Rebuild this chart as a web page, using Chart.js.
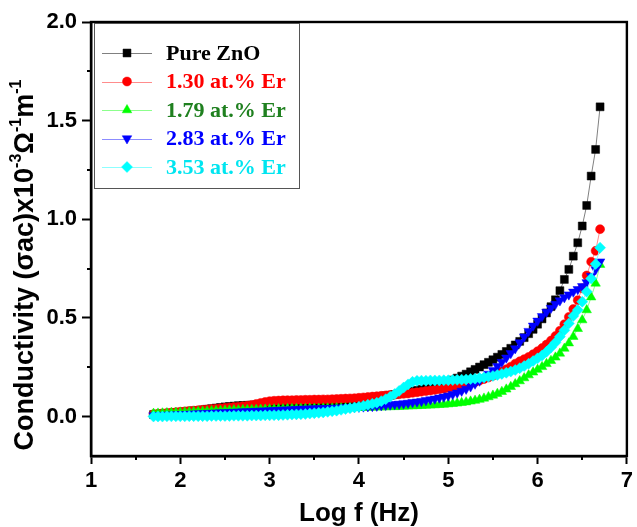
<!DOCTYPE html>
<html>
<head>
<meta charset="utf-8">
<script src="https://cdn.jsdelivr.net/npm/chart.js@4.4.0/dist/chart.umd.min.js"></script>
<style>
html,body{margin:0;padding:0;background:#fff;}
#wrap{width:637px;height:527px;}
</style>
</head>
<body>
<div id="wrap"><canvas id="c" width="637" height="527"></canvas></div>
<script>
// log f (Hz)
const logF = [
1.70,1.75,1.80,1.85,1.90,1.95,2.00,2.05,2.10,2.15,
2.20,2.25,2.30,2.35,2.40,2.45,2.50,2.55,2.60,2.65,
2.70,2.75,2.80,2.85,2.90,2.95,3.00,3.05,3.10,3.15,
3.20,3.25,3.30,3.35,3.40,3.45,3.50,3.55,3.60,3.65,
3.70,3.75,3.80,3.85,3.90,3.95,4.00,4.05,4.10,4.15,
4.20,4.25,4.30,4.35,4.40,4.45,4.50,4.55,4.60,4.65,
4.70,4.75,4.80,4.85,4.90,4.95,5.00,5.05,5.10,5.15,
5.20,5.25,5.30,5.35,5.40,5.45,5.50,5.55,5.60,5.65,
5.70,5.75,5.80,5.85,5.90,5.95,6.00,6.05,6.10,6.15,
6.20,6.25,6.30,6.35,6.40,6.45,6.50,6.55,6.60,6.65,
6.70];

// conductivity x10^-3
const pureZnO = [
0.010,0.012,0.014,0.016,0.018,0.020,0.022,0.024,0.027,0.029,
0.031,0.034,0.037,0.040,0.043,0.046,0.049,0.051,0.053,0.055,
0.056,0.057,0.058,0.059,0.060,0.061,0.062,0.063,0.064,0.065,
0.066,0.067,0.068,0.069,0.070,0.071,0.072,0.073,0.074,0.075,
0.077,0.078,0.080,0.082,0.084,0.086,0.088,0.090,0.093,0.096,
0.099,0.102,0.105,0.108,0.112,0.116,0.120,0.124,0.128,0.133,
0.138,0.144,0.150,0.156,0.162,0.168,0.175,0.185,0.195,0.205,
0.215,0.227,0.239,0.251,0.263,0.275,0.288,0.301,0.315,0.330,
0.346,0.363,0.381,0.400,0.420,0.442,0.468,0.495,0.525,0.557,
0.592,0.638,0.695,0.746,0.813,0.881,0.966,1.070,1.219,1.354,
1.570];

const er130 = [
0.012,0.014,0.016,0.018,0.020,0.022,0.024,0.026,0.028,0.030,
0.032,0.034,0.036,0.038,0.040,0.042,0.044,0.046,0.048,0.050,
0.052,0.055,0.059,0.064,0.069,0.074,0.078,0.080,0.081,0.082,
0.083,0.083,0.084,0.084,0.085,0.085,0.086,0.086,0.087,0.087,
0.088,0.089,0.090,0.091,0.092,0.093,0.095,0.097,0.099,0.101,
0.103,0.105,0.107,0.109,0.111,0.113,0.115,0.117,0.120,0.123,
0.126,0.129,0.132,0.135,0.138,0.141,0.145,0.149,0.153,0.158,
0.163,0.169,0.175,0.182,0.190,0.198,0.207,0.217,0.228,0.240,
0.253,0.268,0.280,0.291,0.302,0.316,0.331,0.347,0.365,0.385,
0.408,0.435,0.468,0.505,0.545,0.590,0.650,0.715,0.785,0.840,
0.950];

const er179 = [
0.015,0.016,0.017,0.018,0.019,0.020,0.021,0.022,0.023,0.024,
0.025,0.026,0.027,0.028,0.029,0.030,0.031,0.032,0.033,0.033,
0.034,0.034,0.035,0.035,0.036,0.036,0.037,0.037,0.038,0.038,
0.039,0.039,0.040,0.040,0.040,0.041,0.041,0.041,0.042,0.042,
0.042,0.043,0.043,0.043,0.044,0.044,0.045,0.045,0.046,0.046,
0.047,0.047,0.048,0.049,0.049,0.050,0.051,0.052,0.053,0.054,
0.055,0.056,0.057,0.058,0.060,0.061,0.063,0.065,0.067,0.070,
0.073,0.077,0.081,0.086,0.092,0.099,0.107,0.116,0.126,0.138,
0.151,0.165,0.180,0.195,0.210,0.224,0.238,0.252,0.267,0.283,
0.300,0.320,0.345,0.372,0.405,0.445,0.489,0.540,0.605,0.675,
0.770];

const er283 = [
0.005,0.006,0.007,0.008,0.009,0.010,0.011,0.012,0.013,0.014,
0.015,0.016,0.017,0.018,0.019,0.020,0.021,0.022,0.023,0.024,
0.025,0.026,0.027,0.028,0.029,0.030,0.031,0.032,0.033,0.034,
0.035,0.036,0.037,0.038,0.039,0.040,0.041,0.041,0.042,0.042,
0.043,0.044,0.045,0.046,0.047,0.048,0.049,0.050,0.051,0.052,
0.054,0.056,0.058,0.060,0.062,0.064,0.066,0.069,0.072,0.075,
0.078,0.082,0.086,0.090,0.095,0.100,0.106,0.113,0.121,0.130,
0.140,0.152,0.166,0.181,0.198,0.216,0.235,0.255,0.276,0.298,
0.321,0.345,0.375,0.405,0.433,0.460,0.485,0.508,0.530,0.550,
0.570,0.588,0.604,0.618,0.632,0.645,0.660,0.680,0.712,0.745,
0.785];

const er353 = [
0.000,0.000,0.000,0.001,0.001,0.001,0.001,0.001,0.002,0.002,
0.002,0.002,0.002,0.003,0.003,0.003,0.003,0.003,0.004,0.004,
0.004,0.004,0.005,0.005,0.005,0.006,0.006,0.007,0.007,0.008,
0.009,0.010,0.011,0.012,0.013,0.015,0.017,0.019,0.021,0.024,
0.027,0.030,0.034,0.038,0.042,0.046,0.050,0.055,0.060,0.065,
0.070,0.078,0.088,0.100,0.114,0.130,0.147,0.163,0.176,0.181,
0.182,0.182,0.183,0.183,0.183,0.184,0.184,0.185,0.186,0.187,
0.188,0.190,0.192,0.195,0.198,0.202,0.206,0.211,0.216,0.222,
0.228,0.236,0.245,0.256,0.268,0.281,0.295,0.310,0.328,0.350,
0.375,0.405,0.437,0.472,0.510,0.540,0.582,0.633,0.700,0.773,
0.856];

const seriesLabels = ['Pure ZnO','1.30 at.% Er','1.79 at.% Er','2.83 at.% Er','3.53 at.% Er'];
const xTicksMajor = [1,2,3,4,5,6,7];
const yTicksMajor = [0.0,0.5,1.0,1.5,2.0];

const SANS = "'Liberation Sans', Arial, Helvetica, sans-serif";
const SERIF = "'Liberation Serif', 'Times New Roman', serif";

const styleSet = [
  {marker:'#000000', line:'#808080', text:'#000000', ps:'rect', r:5.6, rot:0},
  {marker:'#ff0000', line:'#ff8c8c', text:'#ff0000', ps:'circle', r:4.5, rot:0},
  {marker:'#00ff00', line:'#8cff8c', text:'#1f801f', ps:'triangle', r:5.5, rot:0},
  {marker:'#0000ff', line:'#8c8cff', text:'#0000ff', ps:'triangle', r:5.5, rot:180},
  {marker:'#00ffff', line:'#8cffff', text:'#00e5f0', ps:'rectRot', r:5.5, rot:0}
];
const seriesValues = [pureZnO, er130, er179, er283, er353];

const datasets = seriesValues.map((vals, i) => ({
  label: seriesLabels[i],
  data: logF.map((x, k) => ({x: x, y: vals[k]})),
  showLine: true,
  borderColor: styleSet[i].line,
  borderWidth: 1,
  backgroundColor: styleSet[i].marker,
  pointBackgroundColor: styleSet[i].marker,
  pointBorderColor: styleSet[i].marker,
  pointBorderWidth: 0.5,
  pointStyle: styleSet[i].ps,
  pointRadius: styleSet[i].r,
  pointRotation: styleSet[i].rot,
  tension: 0,
  order: 4 - i
}));

function isMajorX(v){ return xTicksMajor.some(t => Math.abs(t - v) < 1e-6); }
function isMajorY(v){ return yTicksMajor.some(t => Math.abs(t - v) < 1e-6); }

const decor = {
  id: 'decor',
  afterDraw(chart) {
    const ctx = chart.ctx;
    const a = chart.chartArea;
    const xs = chart.scales.x, ys = chart.scales.y;
    ctx.save();
    // frame
    ctx.strokeStyle = '#000';
    ctx.lineWidth = 2.4;
    ctx.strokeRect(a.left, a.top, a.right - a.left, a.bottom - a.top);
    // minor ticks
    ctx.lineWidth = 2;
    xs.ticks.forEach(t => {
      if (!isMajorX(t.value)) {
        const px = Math.round(xs.getPixelForValue(t.value));
        ctx.beginPath(); ctx.moveTo(px, a.bottom); ctx.lineTo(px, a.bottom + 4); ctx.stroke();
      }
    });
    ys.ticks.forEach(t => {
      const v = t.value;
      if (!isMajorY(v) && Math.abs(v / 0.25 - Math.round(v / 0.25)) < 1e-6) {
        const py = Math.round(ys.getPixelForValue(v));
        ctx.beginPath(); ctx.moveTo(a.left, py); ctx.lineTo(a.left - 4, py); ctx.stroke();
      }
    });
    // x title
    ctx.fillStyle = '#000';
    ctx.font = 'bold 26px ' + SANS;
    ctx.textAlign = 'center';
    ctx.textBaseline = 'alphabetic';
    ctx.fillText('Log f (Hz)', (a.left + a.right) / 2, 521);
    // y title with superscripts
    const parts = [
      ['Conductivity (\u03C3ac)x10', false],
      ['-3', true], ['\u03A9', false], ['-1', true], ['m', false], ['-1', true]
    ];
    const big = 'bold 27px ' + SANS, small = 'bold 16px ' + SANS;
    let total = 0;
    parts.forEach(p => { ctx.font = p[1] ? small : big; total += ctx.measureText(p[0]).width; });
    ctx.translate(33, 265);
    ctx.rotate(-Math.PI / 2);
    ctx.textAlign = 'left';
    let cx = -total / 2;
    parts.forEach(p => {
      ctx.font = p[1] ? small : big;
      ctx.fillText(p[0], cx, p[1] ? -12 : 0);
      cx += ctx.measureText(p[0]).width;
    });
    ctx.restore();

    // legend
    ctx.save();
    const L = {x0: 94, y0: 23, x1: 299, y1: 188};
    ctx.fillStyle = '#fff';
    ctx.fillRect(L.x0, L.y0, L.x1 - L.x0, L.y1 - L.y0);
    ctx.strokeStyle = '#555';
    ctx.lineWidth = 1;
    ctx.strokeRect(L.x0 + 0.5, L.y0 + 0.5, L.x1 - L.x0, L.y1 - L.y0);
    chart.data.datasets.forEach((ds, i) => {
      const y = 53 + i * 28.5;
      ctx.strokeStyle = ds.borderColor;
      ctx.lineWidth = 1;
      ctx.beginPath(); ctx.moveTo(102, Math.round(y) + 0.5); ctx.lineTo(152, Math.round(y) + 0.5); ctx.stroke();
      ctx.fillStyle = ds.pointBackgroundColor;
      ctx.strokeStyle = ds.pointBorderColor;
      ctx.lineWidth = 0.5;
      Chart.helpers.drawPoint(ctx, {pointStyle: ds.pointStyle, radius: ds.pointRadius, rotation: ds.pointRotation, borderWidth: 0.5}, 127, y);
      ctx.fillStyle = styleSet[i].text;
      ctx.font = 'bold 22px ' + SERIF;
      ctx.textAlign = 'left';
      ctx.textBaseline = 'middle';
      ctx.fillText(ds.label, 166, y + 1);
    });
    ctx.restore();
  }
};

new Chart(document.getElementById('c'), {
  type: 'scatter',
  data: { datasets: datasets },
  options: {
    responsive: false,
    devicePixelRatio: 1,
    animation: false,
    layout: { padding: { left: 0, right: 6, top: 22, bottom: 0 } },
    plugins: { legend: { display: false }, tooltip: { enabled: false } },
    scales: {
      x: {
        type: 'linear', min: 1, max: 7,
        afterFit: s => { s.height = 71; },
        ticks: {
          stepSize: 0.5, autoSkip: false, maxRotation: 0, color: '#000', padding: 4,
          font: { family: SANS, size: 22, weight: 'bold' },
          callback: v => isMajorX(v) ? String(Math.round(v)) : ''
        },
        grid: {
          drawOnChartArea: false, tickLength: 8, tickWidth: 2,
          tickColor: c => (c.tick && isMajorX(c.tick.value)) ? '#000' : 'rgba(0,0,0,0)'
        },
        border: { color: '#000', width: 2.4 },
        title: { display: false }
      },
      y: {
        type: 'linear', min: -0.2, max: 2.0,
        afterFit: s => { s.width = 91; },
        ticks: {
          stepSize: 0.25, autoSkip: false, color: '#000', padding: 5,
          font: { family: SANS, size: 22, weight: 'bold' },
          callback: v => isMajorY(v) ? v.toFixed(1) : ''
        },
        grid: {
          drawOnChartArea: false, tickLength: 9, tickWidth: 2,
          tickColor: c => (c.tick && isMajorY(c.tick.value)) ? '#000' : 'rgba(0,0,0,0)'
        },
        border: { color: '#000', width: 2.4 },
        title: { display: false }
      }
    }
  },
  plugins: [decor]
});
</script>
</body>
</html>
